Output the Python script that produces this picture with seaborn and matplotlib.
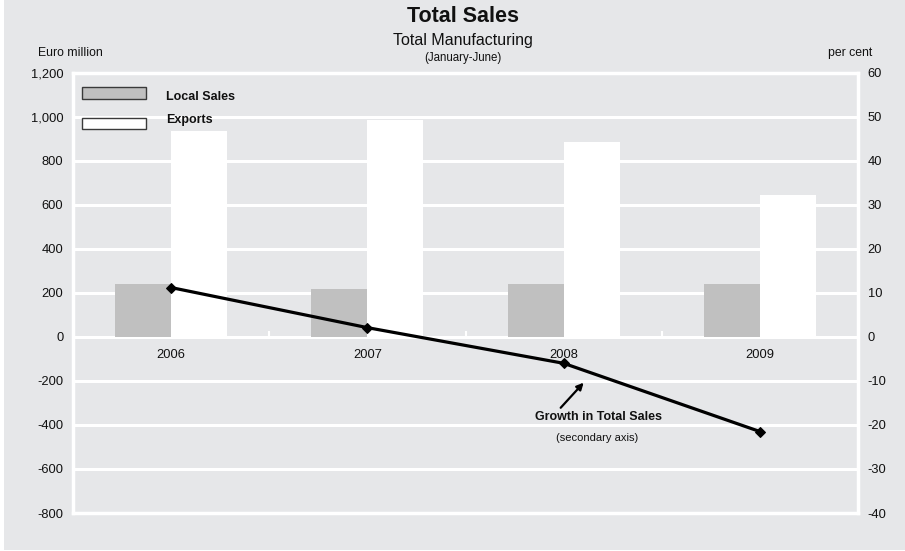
import matplotlib
matplotlib.use("Agg")
import matplotlib.pyplot as plt
from matplotlib.patches import Rectangle
from matplotlib.ticker import FuncFormatter
import pandas as pd
import seaborn as sns

# Sales by year (euro million) and growth in total sales (per cent)
years = ["2006", "2007", "2008", "2009"]
local_sales = [240, 218, 240, 240]
exports = [934, 984, 884, 644]
growth = [11.2, 2.1, -6.0, -21.5]

series_names = ["Local Sales", "Exports"]
series_colors = {"Local Sales": "#c0c0c0", "Exports": "#ffffff"}

left_ticks = list(range(-800, 1201, 200))
right_ticks = list(range(-40, 61, 10))

BG = "#e6e7e9"
INK = "#111111"

sns.set_theme(style="white")
plt.rcParams["font.family"] = ["Liberation Sans", "DejaVu Sans"]

df = pd.DataFrame({
    "year": years * 2,
    "series": [series_names[0]] * len(years) + [series_names[1]] * len(years),
    "value": local_sales + exports,
})

fig = plt.figure(figsize=(9.05, 5.51), dpi=100)
fig.patch.set_facecolor("white")
fig.add_artist(Rectangle((4 / 905, 1 / 551), 1, 1, transform=fig.transFigure,
                         facecolor=BG, edgecolor="none", zorder=-10))

ax = fig.add_axes([73 / 905, 1 - 513 / 551, 785 / 905, 440.3 / 551])
ax.set_facecolor(BG)

sns.barplot(data=df, x="year", y="value", hue="series", hue_order=series_names,
            palette=series_colors, saturation=1, width=0.571, gap=0,
            linewidth=0, legend=False, ax=ax, zorder=2)

ax.set_ylim(-800, 1200)
ax.set_yticks(left_ticks)
ax.yaxis.set_major_formatter(FuncFormatter(lambda v, _: f"{v:,.0f}"))
ax.yaxis.grid(True, color="white", linewidth=2.2)
ax.xaxis.grid(False)
ax.set_axisbelow(True)
ax.set_xlabel("")
ax.set_ylabel("")
ax.tick_params(axis="y", length=0, pad=7, labelsize=9.3, labelcolor=INK)
ax.tick_params(axis="x", length=0, labelbottom=False)
for sp in ax.spines.values():
    sp.set_visible(True)
    sp.set_color("white")
    sp.set_linewidth(2.5)

# Category labels and separator ticks along the zero line
zero_frac = (0 - (-800)) / (1200 - (-800))
sec = ax.secondary_xaxis(zero_frac)
sec.set_xticks(range(len(years)), labels=years)
sec.set_xticks([i + 0.5 for i in range(len(years) - 1)], minor=True)
sec.tick_params(which="major", length=0, pad=9, labelsize=9.3, labelcolor=INK)
sec.tick_params(which="minor", direction="in", length=4, width=1.5, color="white")
for sp in sec.spines.values():
    sp.set_visible(False)

# Growth line on the secondary axis
ax2 = ax.twinx()
sns.lineplot(x=list(range(len(years))), y=growth, ax=ax2, color="black",
             linewidth=2.3, marker="D", markersize=5.5, markeredgecolor="black",
             zorder=5)
ax2.set_ylim(-40, 60)
ax2.set_yticks(right_ticks)
ax2.yaxis.set_major_formatter(FuncFormatter(lambda v, _: f"{v:.0f}"))
ax2.tick_params(axis="y", length=0, pad=7, labelsize=9.3, labelcolor=INK)
ax2.set_ylabel("")
ax2.set_xlabel("")
for sp in ax2.spines.values():
    sp.set_visible(False)
ax.set_xlim(-0.5, len(years) - 0.5)

ax2.annotate("", xy=(2.102, -10.4), xytext=(1.985, -16.1),
             arrowprops=dict(arrowstyle="-|>", color="black", lw=1.6,
                             mutation_scale=10, shrinkA=0, shrinkB=0))
ax2.text(2.179, -18.1, "Growth in Total Sales", ha="center", va="center",
         fontsize=9, fontweight="bold", color=INK)
ax2.text(2.173, -22.9, "(secondary axis)", ha="center", va="center",
         fontsize=8, color=INK)

# Legend
legend_rows = [(0.9675, 0.940, 0.945), (0.897, 0.872, 0.8926)]
for name, (top, bottom, text_y) in zip(series_names, legend_rows):
    ax.add_patch(Rectangle((0.0115, bottom), 0.0815, top - bottom,
                           transform=ax.transAxes, facecolor=series_colors[name],
                           edgecolor="#3a3a3a", linewidth=1, zorder=6,
                           clip_on=False))
    ax.text(0.1185, text_y, name, transform=ax.transAxes, ha="left",
            va="center", fontsize=9, fontweight="bold", color=INK, zorder=6)

# Titles and axis captions
fig.text(463 / 905, 1 - 22 / 551, "Total Sales", ha="center", va="baseline",
         fontsize=15.5, fontweight="bold", color=INK)
fig.text(463 / 905, 1 - 45 / 551, "Total Manufacturing", ha="center",
         va="baseline", fontsize=11.5, color=INK)
fig.text(463 / 905, 1 - 60.5 / 551, "(January-June)", ha="center",
         va="baseline", fontsize=8.3, color=INK)
fig.text(38 / 905, 1 - 56 / 551, "Euro million", ha="left", va="baseline",
         fontsize=8.8, color=INK)
fig.text(828 / 905, 1 - 56 / 551, "per cent", ha="left", va="baseline",
         fontsize=8.8, color=INK)

fig.savefig("out.png", dpi=100, facecolor=fig.get_facecolor())
